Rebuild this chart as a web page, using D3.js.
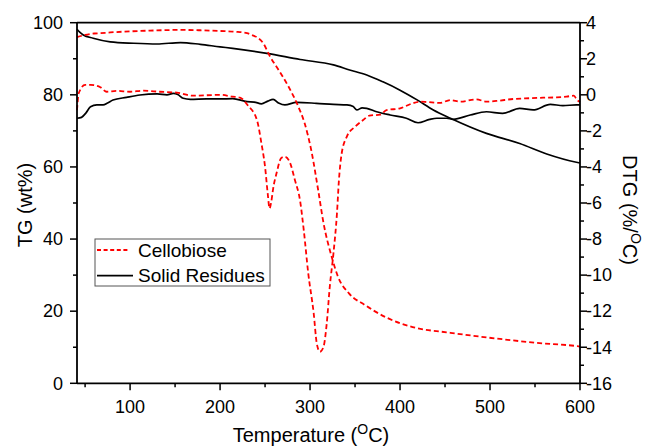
<!DOCTYPE html>
<html><head><meta charset="utf-8">
<script src="https://cdn.jsdelivr.net/npm/d3@7"></script>
<style>body{margin:0;background:#fff}svg{display:block}text{font-family:"Liberation Sans",Arial,sans-serif;fill:#000}</style>
</head><body>
<script>
// ---- data ----
const cellTG_T = [41,50,60,67,78,100,122,155,178,200,217,230,235,242,248,255.6,265,276,287,294,302,309,315,324,331,343,361,386,414,456,511,552,597,600];
const cellTG_V = [96.0,96.6,97.0,97.1,97.3,97.6,97.8,98.0,97.9,97.7,97.5,97.1,96.6,95.8,94.3,90.6,86.9,82.3,76.7,72.1,63.8,53.6,44.4,35.1,29.6,25.0,21.7,18.1,15.6,14.0,12.3,11.2,10.3,10.2];

const cellDTG_T = [41,43,50,56,67,74,85,100,115,133,152,170,192,200,214,222,231,241,246,250,253,255,257,259,263,268,272,278,283,289,293,298,304,307.5,311,315,318.5,322,326,330,332,335,341,350,359,366,378,385,400,414,422,430,444,456,467,485,496,507,526,544,559,574,585,593,597,600];
const cellDTG_V = [-0.85,0.1,0.55,0.55,0.42,0.17,0.22,0.17,0.23,0.17,0.12,-0.05,-0.01,0.0,-0.1,-0.15,-0.6,-1.4,-2.7,-4.0,-5.5,-6.3,-5.9,-5.2,-4.3,-3.5,-3.43,-3.8,-4.7,-5.9,-7.5,-9.9,-12.1,-13.8,-14.25,-13.97,-12.7,-10.6,-8.8,-6.5,-4.8,-3.3,-2.3,-1.77,-1.4,-1.15,-1.1,-0.85,-0.75,-0.47,-0.38,-0.4,-0.45,-0.29,-0.38,-0.25,-0.38,-0.34,-0.23,-0.19,-0.16,-0.14,-0.1,-0.05,-0.3,-0.4];

const solTG_T = [41,44,48,59,78,104,130,156,178,200,214,252,289,326,344,363,381,400,419,437,456,496,533,563,596,600];
const solTG_V = [98.2,97.4,96.6,95.7,94.7,94.3,94.1,94.5,94.0,93.3,92.9,91.5,89.8,88.3,86.9,85.5,83.6,81.3,78.6,75.8,73.5,69.3,66.5,63.6,61.3,61.1];

const solDTG_T = [41,46,51,56,63,70,75,81,96,111,130,141,148,153,159,167,185,200,214,230,238,246,253,259,265,272,285,307,326,341,348,352,358,363,374,389,407,420,433,441,452,459,478,496,514,533,548,567,581,596,600];
const solDTG_V = [-1.3,-1.25,-1.0,-0.66,-0.56,-0.56,-0.45,-0.29,-0.14,-0.01,0.05,0.0,0.08,0.02,-0.19,-0.25,-0.23,-0.23,-0.21,-0.38,-0.4,-0.5,-0.35,-0.25,-0.45,-0.56,-0.42,-0.47,-0.53,-0.56,-0.65,-0.84,-0.72,-0.75,-0.94,-1.12,-1.3,-1.55,-1.36,-1.3,-1.3,-1.36,-1.12,-0.94,-1.03,-0.75,-0.84,-0.53,-0.6,-0.56,-0.56];

const xTicks = [100,200,300,400,500,600];
const xMinor = [50,150,250,350,450,550];
const leftTicks = [0,20,40,60,80,100];
const leftMinor = [10,30,50,70,90];
const rightTicks = [4,2,0,-2,-4,-6,-8,-10,-12,-14,-16];
const rightMinor = [3,1,-1,-3,-5,-7,-9,-11,-13,-15];
const seriesNames = ["Cellobiose","Solid Residues"];
const seriesColors = ["#ff0000","#000000"];

// ---- layout ----
const W=646,H=447;
const L=77,R=580,T=22.7,B=383.3;
const svg=d3.select("body").append("svg").attr("width",W).attr("height",H);
const x=d3.scaleLinear().domain([41,600]).range([L,R]);
const yL=d3.scaleLinear().domain([0,100]).range([B,T]);
const yR=d3.scaleLinear().domain([-16,4]).range([B,T]);
const FS=18;

function lineGen(ys){return d3.line().x(d=>x(d[0])).y(d=>ys(d[1])).curve(d3.curveMonotoneX);}
const zip=(a,b)=>a.map((v,i)=>[v,b[i]]);

const plot=svg.append("g");
plot.append("path").datum(zip(solDTG_T,solDTG_V)).attr("d",lineGen(yR)).attr("fill","none").attr("stroke","#000").attr("stroke-width",1.7);
plot.append("path").datum(zip(solTG_T,solTG_V)).attr("d",lineGen(yL)).attr("fill","none").attr("stroke","#000").attr("stroke-width",1.7);
plot.append("path").datum(zip(cellDTG_T,cellDTG_V)).attr("d",lineGen(yR)).attr("fill","none").attr("stroke","#ff0000").attr("stroke-width",1.8).attr("stroke-dasharray","5,3");
plot.append("path").datum(zip(cellTG_T,cellTG_V)).attr("d",lineGen(yL)).attr("fill","none").attr("stroke","#ff0000").attr("stroke-width",1.8).attr("stroke-dasharray","5,3");

// axes
const ax=svg.append("g").attr("stroke","#000").attr("stroke-width",1.8);
ax.append("line").attr("x1",L).attr("x2",R).attr("y1",B).attr("y2",B);
ax.append("line").attr("x1",L).attr("x2",R).attr("y1",T).attr("y2",T);
ax.append("line").attr("x1",L).attr("x2",L).attr("y1",T).attr("y2",B);
ax.append("line").attr("x1",R).attr("x2",R).attr("y1",T).attr("y2",B);
const tk=svg.append("g").attr("stroke","#000").attr("stroke-width",1.5);
xTicks.forEach(v=>tk.append("line").attr("x1",x(v)).attr("x2",x(v)).attr("y1",B).attr("y2",B+7));
xMinor.forEach(v=>tk.append("line").attr("x1",x(v)).attr("x2",x(v)).attr("y1",B).attr("y2",B+4));
leftTicks.forEach(v=>tk.append("line").attr("x1",L-7).attr("x2",L).attr("y1",yL(v)).attr("y2",yL(v)));
leftMinor.forEach(v=>tk.append("line").attr("x1",L-4).attr("x2",L).attr("y1",yL(v)).attr("y2",yL(v)));
rightTicks.forEach(v=>tk.append("line").attr("x1",R).attr("x2",R+7).attr("y1",yR(v)).attr("y2",yR(v)));
rightMinor.forEach(v=>tk.append("line").attr("x1",R).attr("x2",R+4).attr("y1",yR(v)).attr("y2",yR(v)));

const lab=svg.append("g").attr("font-size",FS);
xTicks.forEach(v=>lab.append("text").attr("x",x(v)).attr("y",413).attr("text-anchor","middle").text(v));
leftTicks.forEach(v=>lab.append("text").attr("x",63).attr("y",yL(v)).attr("dy","0.35em").attr("text-anchor","end").text(v));
rightTicks.forEach(v=>lab.append("text").attr("x",586).attr("y",yR(v)).attr("dy","0.35em").attr("text-anchor","start").text(String(v)));

// titles
const xt=svg.append("text").attr("x",311).attr("y",442).attr("text-anchor","middle").attr("font-size",20);
xt.append("tspan").text("Temperature (");
xt.append("tspan").attr("font-size",14).attr("dy",-8).text("O");
xt.append("tspan").attr("dy",8).text("C)");
svg.append("text").attr("transform","translate(32,205) rotate(-90)").attr("text-anchor","middle").attr("font-size",20).text("TG (wt%)");
const rt=svg.append("text").attr("transform","translate(623,210) rotate(90)").attr("text-anchor","middle").attr("font-size",20);
rt.append("tspan").text("DTG (%/");
rt.append("tspan").attr("font-size",14).attr("dy",-8).text("O");
rt.append("tspan").attr("dy",8).text("C)");

// legend
const lg=svg.append("g");
lg.append("rect").attr("x",95).attr("y",239).attr("width",175).attr("height",47).attr("fill","#fff").attr("stroke","#555").attr("stroke-width",1);
seriesNames.forEach((n,i)=>{
  const yy=250+i*25.7;
  lg.append("line").attr("x1",97).attr("x2",i===0?130:133).attr("y1",yy).attr("y2",yy).attr("stroke",seriesColors[i]).attr("stroke-width",1.8).attr("stroke-dasharray",i===0?"4,2.6":null);
  lg.append("text").attr("x",138).attr("y",yy).attr("dy","0.35em").attr("font-size",19).text(n);
});
</script>
</body></html>
